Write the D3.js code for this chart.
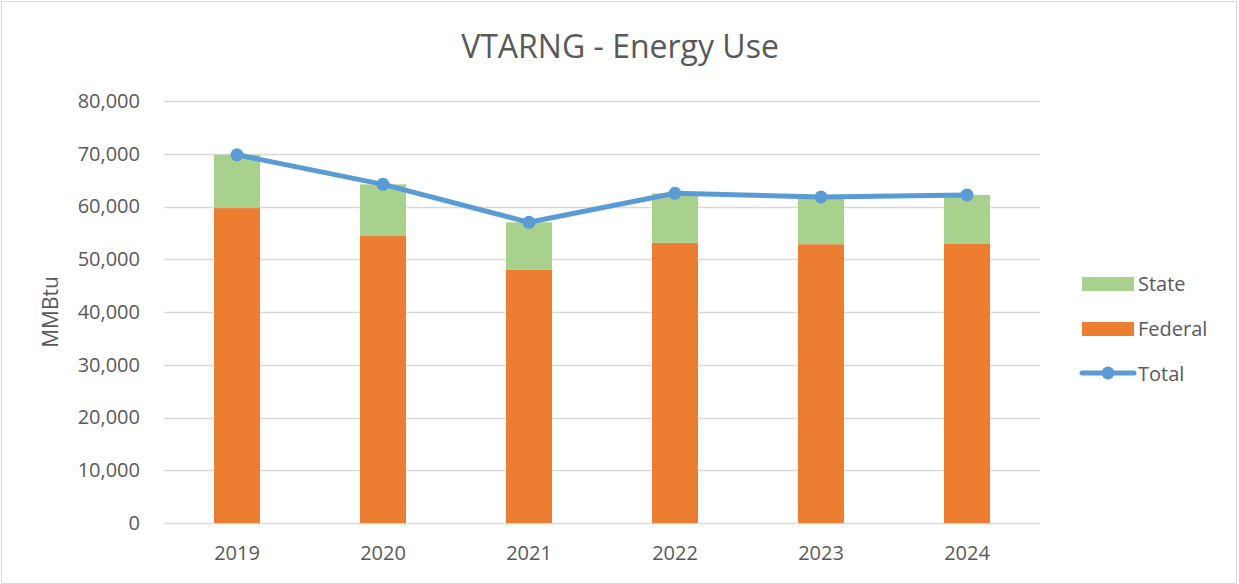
<!DOCTYPE html>
<html>
<head>
<meta charset="utf-8">
<script src="https://cdn.jsdelivr.net/npm/d3@7"></script>
<style>
  html, body { margin: 0; padding: 0; background: #fff; }
  svg { display: block; font-family: "Open Sans", "Liberation Sans", sans-serif; }
</style>
</head>
<body>
<svg id="chart" width="1239" height="584"></svg>
<script>
// chart data
var years = ['2019', '2020', '2021', '2022', '2023', '2024'];
var federal = [59700, 54400, 48000, 53100, 52850, 53000];
var state = [10100, 9800, 9000, 9400, 8950, 9200];
var total = [69800, 64200, 57000, 62500, 61800, 62200];
var yTicks = [0, 10000, 20000, 30000, 40000, 50000, 60000, 70000, 80000];

(function () {
    'use strict';

    var W = 1239, H = 584;
    var plotLeft = 164, plotRight = 1040, plotTop = 101, plotBottom = 523;
    var textColor = '#595959';
    var labelSize = 20;

    var svg = d3.select('#chart');

    // chart border
    svg.append('rect')
        .attr('x', 1.5).attr('y', 1.5)
        .attr('width', W - 4).attr('height', H - 2)
        .attr('fill', '#fff')
        .attr('stroke', '#d9d9d9');

    var x = d3.scaleBand()
        .domain(years)
        .range([plotLeft, plotRight])
        .paddingInner(0.685)
        .paddingOuter(0.3425);

    var y = d3.scaleLinear()
        .domain([0, 80000])
        .range([plotBottom, plotTop]);

    // gridlines
    svg.append('g')
        .selectAll('line')
        .data(yTicks)
        .enter()
        .append('line')
        .attr('x1', plotLeft).attr('x2', plotRight)
        .attr('y1', function (d) { return Math.round(y(d)) + 0.5; })
        .attr('y2', function (d) { return Math.round(y(d)) + 0.5; })
        .attr('stroke', '#d9d9d9')
        .attr('stroke-width', 1.5);

    // y axis labels
    var yAxis = d3.axisLeft(y)
        .tickValues(yTicks)
        .tickSize(0)
        .tickPadding(0)
        .tickFormat(d3.format(','));
    var yg = svg.append('g')
        .attr('transform', 'translate(140,0)')
        .call(yAxis);
    yg.select('.domain').remove();
    yg.selectAll('text')
        .attr('fill', textColor)
        .attr('font-size', labelSize)
        .attr('font-family', '"Open Sans", sans-serif');

    // x axis labels
    var xAxis = d3.axisBottom(x).tickSize(0).tickPadding(0);
    var xg = svg.append('g')
        .attr('transform', 'translate(0,' + (plotBottom + 23) + ')')
        .call(xAxis);
    xg.select('.domain').remove();
    xg.selectAll('text')
        .attr('fill', textColor)
        .attr('font-size', labelSize)
        .attr('font-family', '"Open Sans", sans-serif');

    // stacked bars
    var rows = years.map(function (yr, i) {
        return { year: yr, Federal: federal[i], State: state[i] };
    });
    var stack = d3.stack().keys(['Federal', 'State']);
    var colors = { Federal: '#ed7d31', State: '#a9d18e' };

    svg.append('g')
        .selectAll('g')
        .data(stack(rows))
        .enter()
        .append('g')
        .attr('fill', function (d) { return colors[d.key]; })
        .selectAll('rect')
        .data(function (d) { return d; })
        .enter()
        .append('rect')
        .attr('x', function (d) { return x(d.data.year); })
        .attr('width', x.bandwidth())
        .attr('y', function (d) { return y(d[1]); })
        .attr('height', function (d) { return y(d[0]) - y(d[1]); });

    // total line
    var cx = function (i) { return x(years[i]) + x.bandwidth() / 2; };
    var line = d3.line()
        .x(function (d, i) { return cx(i); })
        .y(function (d) { return y(d); });

    svg.append('path')
        .datum(total)
        .attr('d', line)
        .attr('fill', 'none')
        .attr('stroke', '#5b9bd5')
        .attr('stroke-width', 5)
        .attr('stroke-linejoin', 'round');

    svg.append('g')
        .selectAll('circle')
        .data(total)
        .enter()
        .append('circle')
        .attr('cx', function (d, i) { return cx(i); })
        .attr('cy', function (d) { return y(d); })
        .attr('r', 6.5)
        .attr('fill', '#5b9bd5');

    // title
    svg.append('text')
        .attr('x', 620).attr('y', 58)
        .attr('text-anchor', 'middle')
        .attr('fill', textColor)
        .attr('font-size', 32)
        .text('VTARNG - Energy Use');

    // y axis title
    svg.append('text')
        .attr('transform', 'translate(58,' + ((plotTop + plotBottom) / 2) + ') rotate(-90)')
        .attr('text-anchor', 'middle')
        .attr('fill', textColor)
        .attr('font-size', 21)
        .text('MMBtu');

    // legend
    var legend = svg.append('g').attr('transform', 'translate(1082,0)');
    legend.append('rect').attr('x', 0).attr('y', 277).attr('width', 52).attr('height', 14).attr('fill', colors.State);
    legend.append('text').attr('x', 56).attr('y', 291).attr('fill', textColor).attr('font-size', labelSize).text('State');
    legend.append('rect').attr('x', 0).attr('y', 322).attr('width', 52).attr('height', 14).attr('fill', colors.Federal);
    legend.append('text').attr('x', 56).attr('y', 336).attr('fill', textColor).attr('font-size', labelSize).text('Federal');
    legend.append('line').attr('x1', 0).attr('x2', 52).attr('y1', 373).attr('y2', 373)
        .attr('stroke', '#5b9bd5').attr('stroke-width', 5).attr('stroke-linecap', 'round');
    legend.append('circle').attr('cx', 26).attr('cy', 373).attr('r', 6.5).attr('fill', '#5b9bd5');
    legend.append('text').attr('x', 56).attr('y', 381).attr('fill', textColor).attr('font-size', labelSize).text('Total');
})();
</script>
</body>
</html>
